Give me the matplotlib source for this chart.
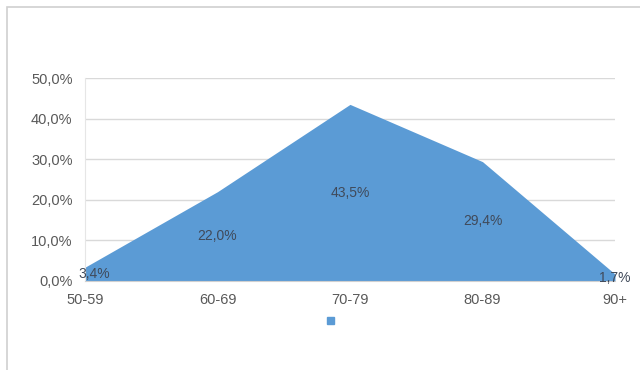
import matplotlib.pyplot as plt
from matplotlib.patches import Rectangle
from matplotlib.ticker import FuncFormatter

# faixas etárias e percentuais
faixas = ["50-59", "60-69", "70-79", "80-89", "90+"]
percentuais = [3.4, 22.0, 43.5, 29.4, 1.7]

COR_AREA = "#5B9BD5"
COR_TEXTO = "#595959"
COR_GRADE = "#D9D9D9"

plt.rcParams["font.family"] = ["Liberation Sans", "DejaVu Sans"]

fig = plt.figure(figsize=(6.4, 3.7), dpi=100)
fig.patch.set_facecolor("white")

# moldura do gráfico (bordas superior e esquerda visíveis)
fig.add_artist(Rectangle((7 / 640, -0.1), 1.2, 1 - 7 / 370 + 0.1,
                         transform=fig.transFigure, fill=False,
                         edgecolor="#D0D0D0", linewidth=1.2))

ax = fig.add_axes([85 / 640, (370 - 281) / 370, 530 / 640, 203 / 370])

x = list(range(len(faixas)))
ax.fill_between(x, 0, percentuais, color=COR_AREA, linewidth=0, zorder=2)

# rótulos de dados no meio da área
for xi, v in zip(x, percentuais):
    dx = 0.07 if xi == 0 else 0.0
    ax.text(xi + dx, v / 2, f"{v:.1f}%".replace(".", ","),
            ha="center", va="center", fontsize=10, color="#404A5A", zorder=3)

ax.set_xlim(0, len(faixas) - 1)
ax.set_ylim(0, 50)
ax.set_yticks([0, 10, 20, 30, 40, 50])
ax.yaxis.set_major_formatter(
    FuncFormatter(lambda v, _: f"{v:.1f}%".replace(".", ",")))
ax.set_xticks(x)
ax.set_xticklabels(faixas)

ax.grid(True, axis="y", color=COR_GRADE, linewidth=1, zorder=0)
ax.set_axisbelow(True)
for lado in ["top", "right"]:
    ax.spines[lado].set_visible(False)
ax.spines["left"].set_color("#E6E6E6")
ax.spines["bottom"].set_color("#D0D0D0")
ax.tick_params(axis="both", length=0, labelsize=10.5, colors=COR_TEXTO)
ax.tick_params(axis="y", pad=9)
ax.tick_params(axis="x", pad=9)

# legenda sem rótulo: só o marcador
fig.add_artist(Rectangle((327 / 640, (370 - 324) / 370), 7 / 640, 7 / 370,
                         transform=fig.transFigure, color=COR_AREA))

fig.savefig("out.png", dpi=100, facecolor="white")
